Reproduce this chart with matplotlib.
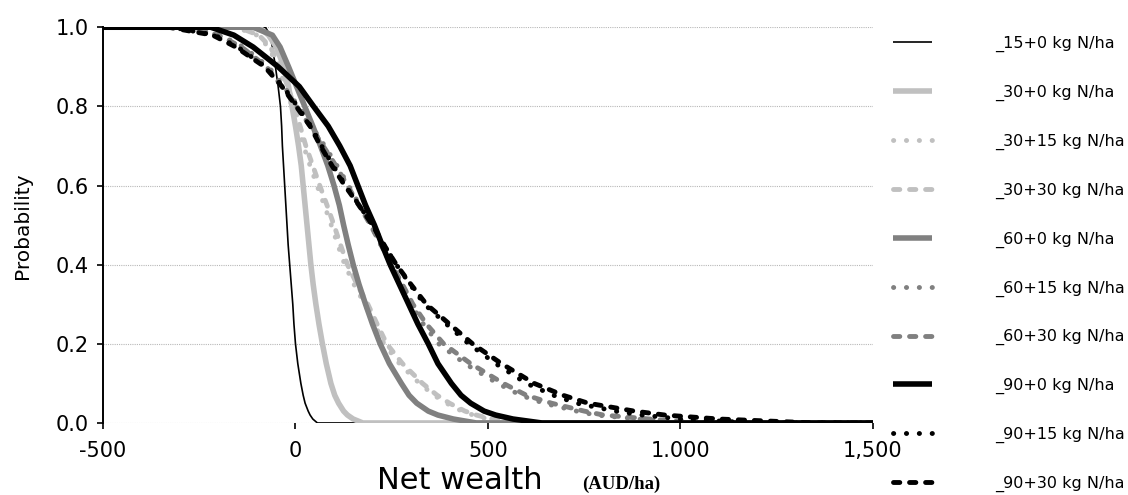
import matplotlib
matplotlib.use("Agg")
import matplotlib.pyplot as plt

# probability levels (survival curve, P(net wealth > x)); first/last entries are the flat ends
prob = [1.0, 1.0, 0.98, 0.95, 0.9, 0.85, 0.8, 0.75, 0.7, 0.65, 0.6, 0.55, 0.5, 0.45,
        0.4, 0.35, 0.3, 0.25, 0.2, 0.15, 0.1, 0.07, 0.05, 0.03, 0.02, 0.01, 0.0, 0.0]

# net wealth (AUD/ha) at each probability level, per treatment
w_15_0 = [-500, -78, -66, -60, -52, -45, -39, -36, -34, -31, -28, -25, -22, -19,
          -15, -11, -7, -4, 0, 6, 14, 20, 25, 33, 38, 45, 57, 1500]
w_30_0 = [-500, -95, -70, -50, -30, -18, -9, 0, 8, 15, 20, 25, 30, 35,
          40, 46, 53, 61, 70, 80, 92, 102, 112, 125, 135, 150, 175, 1500]
w_30_15 = [-500, -155, -100, -70, -45, -26, -9, 6, 21, 38, 56, 75, 93, 110,
           128, 152, 180, 205, 230, 270, 322, 360, 392, 432, 462, 500, 555, 1500]
w_30_30 = [-500, -150, -95, -65, -40, -20, -3, 12, 27, 45, 63, 82, 100, 117,
           135, 160, 188, 212, 237, 278, 330, 368, 400, 440, 470, 510, 570, 1500]
w_60_0 = [-500, -110, -60, -40, -18, 3, 24, 45, 65, 84, 100, 114, 125, 137,
          150, 165, 182, 200, 220, 244, 275, 295, 315, 345, 370, 410, 470, 1500]
w_60_15 = [-500, -280, -195, -135, -70, -30, 8, 42, 76, 108, 138, 167, 196, 222,
           248, 275, 300, 332, 372, 440, 525, 585, 645, 730, 780, 890, 1000, 1500]
w_60_30 = [-500, -290, -200, -140, -75, -35, 3, 38, 72, 105, 135, 165, 195, 222,
           250, 278, 305, 340, 385, 455, 540, 600, 665, 750, 800, 920, 1050, 1500]
w_90_0 = [-500, -220, -160, -110, -45, 10, 47, 85, 115, 142, 162, 182, 205, 225,
          246, 270, 294, 318, 345, 370, 405, 430, 455, 490, 520, 565, 640, 1500]
w_90_15 = [-500, -320, -210, -150, -78, -32, 5, 40, 68, 98, 130, 166, 200, 230,
           262, 298, 335, 392, 450, 520, 600, 670, 730, 830, 900, 1000, 1200, 1500]
w_90_30 = [-500, -330, -215, -155, -80, -35, 2, 38, 65, 95, 128, 165, 200, 230,
           262, 300, 340, 400, 460, 535, 620, 695, 760, 880, 960, 1100, 1350, 1500]

labels = ["_15+0 kg N/ha", "_30+0 kg N/ha", "_30+15 kg N/ha", "_30+30 kg N/ha",
          "_60+0 kg N/ha", "_60+15 kg N/ha", "_60+30 kg N/ha", "_90+0 kg N/ha",
          "_90+15 kg N/ha", "_90+30 kg N/ha"]
series = [w_15_0, w_30_0, w_30_15, w_30_30, w_60_0, w_60_15, w_60_30, w_90_0, w_90_15, w_90_30]

xticks = [-500, 0, 500, 1000, 1500]
xtick_labels = ["-500", "0", "500", "1.000", "1,500"]
yticks = [0.0, 0.2, 0.4, 0.6, 0.8, 1.0]

light = "#c0c0c0"
mid = "#808080"
dot = (0, (0.05, 2.6))
dash = (0, (1.3, 2.0))
styles = [
    dict(color="black", lw=1.2, ls="-"),
    dict(color=light, lw=4.0, ls="-"),
    dict(color=light, lw=3.5, ls=dot, dash_capstyle="round"),
    dict(color=light, lw=3.5, ls=dash, dash_capstyle="round"),
    dict(color=mid, lw=4.0, ls="-"),
    dict(color=mid, lw=3.5, ls=dot, dash_capstyle="round"),
    dict(color=mid, lw=3.5, ls=dash, dash_capstyle="round"),
    dict(color="black", lw=4.0, ls="-"),
    dict(color="black", lw=3.5, ls=dot, dash_capstyle="round"),
    dict(color="black", lw=3.5, ls=dash, dash_capstyle="round"),
]

plt.rcParams['font.family'] = ['DejaVu Sans']
fig = plt.figure(figsize=(11.28, 4.95), dpi=100)
ax = fig.add_axes([0.0913, 0.1455, 0.6826, 0.7995])

handles = []
for w, st in zip(series, styles):
    ln, = ax.plot(w, prob, solid_capstyle="butt", **st)
    handles.append(ln)

ax.set_xlim(-500, 1500)
ax.set_ylim(0, 1.0)
ax.set_xticks(xticks)
ax.set_xticklabels(xtick_labels)
ax.set_yticks(yticks)
ax.set_yticklabels(["%.1f" % v for v in yticks])
ax.tick_params(axis="both", labelsize=15, length=4, width=1.2, color="black")
ax.tick_params(axis="y", pad=6)
ax.tick_params(axis="x", pad=9)
ax.yaxis.grid(True, linestyle=(0, (1, 1)), color="#b8b8b8", lw=0.8)
ax.set_axisbelow(True)
for s in ["top", "right", "bottom"]:
    ax.spines[s].set_visible(False)
ax.spines["left"].set_linewidth(1.4)

fig.text(22 / 1128, 1 - 226 / 495, "Probability", rotation=90, ha="center", va="center", fontsize=14.5)
fig.text(377 / 1128, 1 - 489 / 495, "Net wealth", ha="left", va="baseline", fontsize=22)
fig.text(582 / 1128, 1 - 489 / 495, "(AUD/ha)", ha="left", va="baseline", fontsize=13.5,
         family="Liberation Serif", weight="bold")

fig.legend(handles, labels, loc="upper left", bbox_to_anchor=(893 / 1128, 1 - 36 / 495),
           frameon=False, fontsize=11.5, handlelength=2.45, handletextpad=3.95,
           labelspacing=2.045, borderpad=0, borderaxespad=0)

fig.savefig("out.png", dpi=100)
